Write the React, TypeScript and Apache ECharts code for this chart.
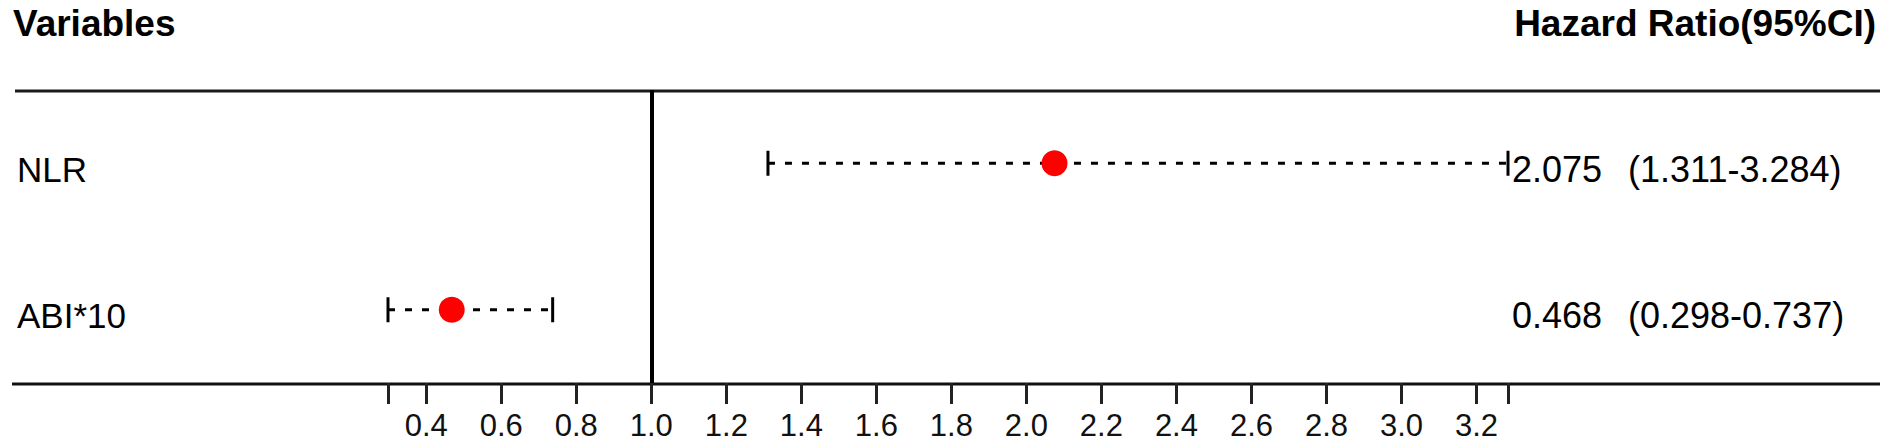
import React, { useEffect, useRef } from 'react';
import * as echarts from 'echarts';

// Data (rows listed bottom to top)
const variables = ['ABI*10', 'NLR'];
const hazardRatios = [0.468, 2.075];
const ciLower = [0.298, 1.311];
const ciUpper = [0.737, 3.284];
const hrText = ['0.468', '2.075'];
const ciText = ['(0.298-0.737)', '(1.311-3.284)'];

const axisMin = 0.298;
const axisMax = 3.284;
const tickValues = [0.298, 0.4, 0.6, 0.8, 1.0, 1.2, 1.4, 1.6, 1.8, 2.0, 2.2, 2.4, 2.6, 2.8, 3.0, 3.2, 3.284];
const labelValues = [0.4, 0.6, 0.8, 1.0, 1.2, 1.4, 1.6, 1.8, 2.0, 2.2, 2.4, 2.6, 2.8, 3.0, 3.2];
const referenceValue = 1.0;

const headerLeft = 'Variables';
const headerRight = 'Hazard Ratio(95%CI)';

const FONT = '"Liberation Sans", Arial, sans-serif';

export default function App() {
  const ref = useRef<HTMLDivElement>(null);

  useEffect(() => {
    if (!ref.current) return;
    const chart = echarts.init(ref.current, null, { renderer: 'svg' });

    const whiskerSeries = variables.map((name, i) => ({
      type: 'line',
      name: 'ci-' + name,
      data: [
        [ciLower[i], i],
        [ciUpper[i], i],
      ],
      symbol: 'none',
      silent: true,
      z: 2,
      lineStyle: { color: '#000', width: 3, type: [7, 10] },
    }));

    const capData: number[][] = [];
    variables.forEach((_, i) => {
      capData.push([ciLower[i], i]);
      capData.push([ciUpper[i], i]);
    });

    const option: any = {
      animation: false,
      backgroundColor: '#fff',
      textStyle: { fontFamily: FONT },
      grid: { left: 388, right: 382, top: 90, bottom: 61 },
      xAxis: {
        type: 'value',
        min: axisMin,
        max: axisMax,
        splitLine: { show: false },
        axisLine: { show: false },
        axisTick: {
          show: true,
          customValues: tickValues,
          length: 21,
          lineStyle: { color: '#222', width: 3 },
        },
        axisLabel: {
          show: true,
          customValues: labelValues,
          formatter: (v: number) => v.toFixed(1),
          fontSize: 31,
          color: '#111',
          margin: 27,
          fontFamily: FONT,
        },
      },
      yAxis: [
        {
          type: 'category',
          data: variables,
          boundaryGap: true,
          axisLine: { show: false },
          axisTick: { show: false },
          splitLine: { show: false },
          axisLabel: {
            align: 'left',
            margin: 371,
            padding: [12, 0, 0, 0],
            formatter: (v: string) => `{n|${v}}`,
            rich: {
              n: { fontSize: 35, color: '#000', fontFamily: FONT },
            },
          },
        },
        {
          type: 'category',
          data: variables,
          position: 'right',
          boundaryGap: true,
          axisLine: { show: false },
          axisTick: { show: false },
          splitLine: { show: false },
          axisLabel: {
            align: 'left',
            margin: 4,
            padding: [12, 0, 0, 0],
            formatter: (_v: string, idx: number) => `{hr|${hrText[idx]}}{ci|${ciText[idx]}}`,
            rich: {
              hr: { fontSize: 36, color: '#000', fontFamily: FONT, width: 116 },
              ci: { fontSize: 36, color: '#000', fontFamily: FONT },
            },
          },
        },
      ],
      graphic: [
        {
          type: 'text',
          left: 13,
          top: 5,
          style: { text: headerLeft, font: `bold 37px ${FONT}`, fill: '#000' },
        },
        {
          type: 'text',
          right: 14,
          top: 5,
          style: { text: headerRight, font: `bold 37px ${FONT}`, fill: '#000' },
        },
        {
          type: 'line',
          shape: { x1: 15, y1: 91, x2: 1880, y2: 91 },
          style: { stroke: '#1a1a1a', lineWidth: 3 },
        },
        {
          type: 'line',
          shape: { x1: 12, y1: 384, x2: 1880, y2: 384 },
          style: { stroke: '#111', lineWidth: 3 },
        },
      ],
      series: [
        ...whiskerSeries,
        {
          type: 'scatter',
          name: 'caps',
          data: capData,
          symbol: 'rect',
          symbolSize: [3, 25],
          itemStyle: { color: '#000', opacity: 1 },
          silent: true,
          z: 3,
        },
        {
          type: 'scatter',
          name: 'HR',
          data: variables.map((_, i) => [hazardRatios[i], i]),
          symbol: 'circle',
          symbolSize: 26,
          itemStyle: { color: '#ff0000', opacity: 1 },
          silent: true,
          z: 4,
          markLine: {
            silent: true,
            symbol: ['none', 'none'],
            label: { show: false },
            lineStyle: { color: '#000', width: 4, type: 'solid' },
            data: [{ xAxis: referenceValue }],
          },
        },
      ],
    };

    chart.setOption(option);
    return () => chart.dispose();
  }, []);

  return (
    <div
      ref={ref}
      style={{ position: 'absolute', left: 0, top: 0, width: 1890, height: 444 }}
    />
  );
}
